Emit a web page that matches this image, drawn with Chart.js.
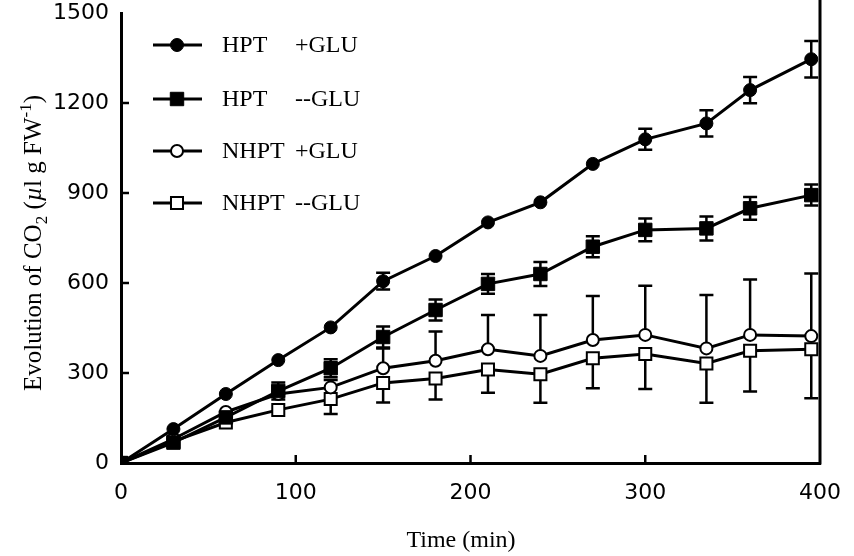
<!DOCTYPE html>
<html><head><meta charset="utf-8">
<script src="https://cdn.jsdelivr.net/npm/chart.js@4"></script>
<style>html,body{margin:0;padding:0;background:#fff}#wrap{width:854px;height:556px}</style>
</head><body><div id="wrap"><canvas id="c" width="854" height="556" style="width:854px;height:556px"></canvas></div>
<script>
// ---- data ----
const timeMin = [0, 30, 60, 90, 120, 150, 180, 210, 240, 270, 300, 335, 360, 395];
const seriesLabels = ["HPT +GLU", "HPT --GLU", "NHPT +GLU", "NHPT --GLU"];
const hptPlusGlu   = [0, 113, 230, 343, 452, 606, 690, 802, 869, 997, 1079, 1132, 1243, 1346];
const hptMinusGlu  = [0, 68, 152, 240, 316, 420, 510, 597, 630, 721, 777, 782, 849, 893];
const nhptPlusGlu  = [0, 80, 170, 230, 252, 316, 341, 379, 357, 410, 427, 382, 427, 423];
const nhptMinusGlu = [0, 72, 135, 177, 213, 267, 282, 312, 296, 349, 363, 332, 374, 379];
// error bars (SE) as drawn: symmetric for HPT, upper only / lower only for NHPT
const hptPlusErr   = [0, 0, 0, 0, 0, 28, 0, 0, 0, 0, 35, 44, 44, 61];
const hptMinusErr  = [0, 0, 0, 28, 30, 35, 35, 33, 40, 35, 38, 40, 38, 35];
const nhptPlusErrUp    = [0, 0, 0, 0, 25, 66, 97, 114, 136, 147, 164, 178, 185, 209];
const nhptMinusErrDown = [0, 0, 0, 0, 50, 65, 70, 78, 95, 100, 116, 131, 136, 163];
const xTicks = [0, 100, 200, 300, 400];
const yTicks = [0, 300, 600, 900, 1200, 1500];
const xTitle = "Time (min)";

// ---- styles ----
const markerStyles = [
  {style: 'circle', radius: 6.5, fill: '#000', bw: 1},
  {style: 'rect', radius: 9.5, fill: '#000', bw: 1},
  {style: 'circle', radius: 6, fill: '#fff', bw: 2},
  {style: 'rect', radius: 8.5, fill: '#fff', bw: 2}
];
const seriesValues = [hptPlusGlu, hptMinusGlu, nhptPlusGlu, nhptMinusGlu];
const errUp   = [hptPlusErr, hptMinusErr, nhptPlusErrUp, null];
const errDown = [hptPlusErr, hptMinusErr, null, nhptMinusErrDown];
const drawOrder = [1, 0, 2, 3];

const datasets = seriesValues.map((vals, i) => ({
  label: seriesLabels[i],
  data: vals.map((v, j) => ({x: timeMin[j], y: v})),
  borderColor: '#000',
  borderWidth: 3,
  tension: 0,
  fill: false,
  pointStyle: markerStyles[i].style,
  pointRadius: markerStyles[i].radius,
  pointHoverRadius: markerStyles[i].radius,
  pointBackgroundColor: markerStyles[i].fill,
  pointBorderColor: '#000',
  pointBorderWidth: markerStyles[i].bw,
  order: drawOrder[i]
}));

function drawMarker(ctx, ms, x, y) {
  ctx.save();
  ctx.fillStyle = ms.fill;
  ctx.strokeStyle = '#000';
  ctx.lineWidth = ms.bw;
  ctx.beginPath();
  if (ms.style === 'circle') {
    ctx.arc(x, y, ms.radius, 0, Math.PI * 2);
  } else {
    const s = Math.SQRT1_2 * ms.radius;
    ctx.rect(x - s, y - s, 2 * s, 2 * s);
  }
  ctx.fill();
  ctx.stroke();
  ctx.restore();
}

const errorBarPlugin = {
  id: 'errorBars',
  beforeDatasetsDraw(chart) {
    const ctx = chart.ctx, xs = chart.scales.x, ys = chart.scales.y;
    ctx.save();
    ctx.strokeStyle = '#000';
    ctx.lineWidth = 2.5;
    const cap = 7;
    for (let i = 0; i < seriesValues.length; i++) {
      for (let j = 0; j < timeMin.length; j++) {
        const v = seriesValues[i][j];
        const px = xs.getPixelForValue(timeMin[j]);
        const py = ys.getPixelForValue(v);
        const segs = [];
        if (errUp[i] && errUp[i][j] > 0) segs.push(ys.getPixelForValue(v + errUp[i][j]));
        if (errDown[i] && errDown[i][j] > 0) segs.push(ys.getPixelForValue(v - errDown[i][j]));
        for (const ey of segs) {
          ctx.beginPath();
          ctx.moveTo(px, py); ctx.lineTo(px, ey);
          ctx.moveTo(px - cap, ey); ctx.lineTo(px + cap, ey);
          ctx.stroke();
        }
      }
    }
    ctx.restore();
  }
};

const decorPlugin = {
  id: 'decor',
  afterDraw(chart) {
    const ctx = chart.ctx, xs = chart.scales.x, ys = chart.scales.y, ca = chart.chartArea;
    ctx.save();
    ctx.strokeStyle = '#000';
    ctx.lineWidth = 2.5;
    // inward ticks
    yTicks.forEach(v => {
      if (v === 0 || v === 1500) return;
      const y = ys.getPixelForValue(v);
      ctx.beginPath(); ctx.moveTo(ca.left, y); ctx.lineTo(ca.left + 8, y); ctx.stroke();
    });
    xTicks.forEach(v => {
      if (v === 0 || v === 400) return;
      const x = xs.getPixelForValue(v);
      ctx.beginPath(); ctx.moveTo(x, ca.bottom); ctx.lineTo(x, ca.bottom - 8); ctx.stroke();
    });
    // right frame line
    ctx.lineWidth = 3;
    ctx.beginPath(); ctx.moveTo(ca.right, 0); ctx.lineTo(ca.right, ca.bottom + 1.5); ctx.stroke();

    // legend (inside plot, top-left)
    const rowY = [45, 99, 151, 203];
    ctx.fillStyle = '#000';
    ctx.font = '24px "Liberation Serif", "Times New Roman", serif';
    ctx.textBaseline = 'middle';
    ctx.textAlign = 'left';
    seriesLabels.forEach((lab, i) => {
      const y = rowY[i];
      ctx.lineWidth = 3;
      ctx.beginPath(); ctx.moveTo(153, y); ctx.lineTo(202, y); ctx.stroke();
      drawMarker(ctx, markerStyles[i], 177, y);
      const sp = lab.indexOf(' ');
      ctx.fillStyle = '#000';
      ctx.fillText(lab.slice(0, sp), 222, y + 1);
      ctx.fillText(lab.slice(sp + 1), 295, y + 1);
    });

    // x title
    ctx.textAlign = 'center';
    ctx.fillText(xTitle, 461, 541);

    // y title with sub/superscripts
    const big = '25px "Liberation Serif", "Times New Roman", serif';
    const small = '17px "Liberation Serif", "Times New Roman", serif';
    const ital = 'italic 25px "Liberation Serif", "Times New Roman", serif';
    const pieces = [
      {t: 'Evolution of CO', f: big, dy: 0},
      {t: '2', f: small, dy: 6},
      {t: ' (', f: big, dy: 0},
      {t: 'µ', f: ital, dy: 0},
      {t: 'l g FW', f: big, dy: 0},
      {t: '-1', f: small, dy: -10},
      {t: ')', f: big, dy: 0}
    ];
    let total = 0;
    pieces.forEach(p => { ctx.font = p.f; p.w = ctx.measureText(p.t).width; total += p.w; });
    ctx.translate(33, 243);
    ctx.rotate(-Math.PI / 2);
    ctx.textAlign = 'left';
    ctx.textBaseline = 'alphabetic';
    let cx = -total / 2;
    pieces.forEach(p => { ctx.font = p.f; ctx.fillText(p.t, cx, 8 + p.dy); cx += p.w; });
    ctx.restore();
  }
};

new Chart(document.getElementById('c'), {
  type: 'line',
  data: {datasets},
  options: {
    responsive: false,
    devicePixelRatio: 1,
    animation: false,
    events: [],
    layout: {padding: {left: 0, right: 34, top: 13, bottom: 0}},
    plugins: {legend: {display: false}, tooltip: {enabled: false}, title: {display: false}},
    scales: {
      x: {
        type: 'linear', min: 0, max: 400,
        afterBuildTicks: s => { s.ticks = xTicks.map(v => ({value: v})); },
        afterFit: s => { s.height = 93; s.paddingLeft = 0; s.paddingRight = 0; },
        grid: {display: false, drawTicks: false},
        border: {display: true, color: '#000', width: 3},
        ticks: {color: '#000', padding: 17, maxRotation: 0, callback: v => String(v),
                font: {family: '"DejaVu Sans", sans-serif', size: 22}}
      },
      y: {
        type: 'linear', min: 0, max: 1500,
        afterBuildTicks: s => { s.ticks = yTicks.map(v => ({value: v})); },
        afterFit: s => { s.width = 121; s.paddingTop = 0; s.paddingBottom = 0; },
        grid: {display: false, drawTicks: false},
        border: {display: true, color: '#000', width: 3},
        ticks: {color: '#000', padding: 12, callback: v => String(v),
                font: {family: '"DejaVu Sans", sans-serif', size: 22}}
      }
    }
  },
  plugins: [errorBarPlugin, decorPlugin]
});
</script>
</body></html>
